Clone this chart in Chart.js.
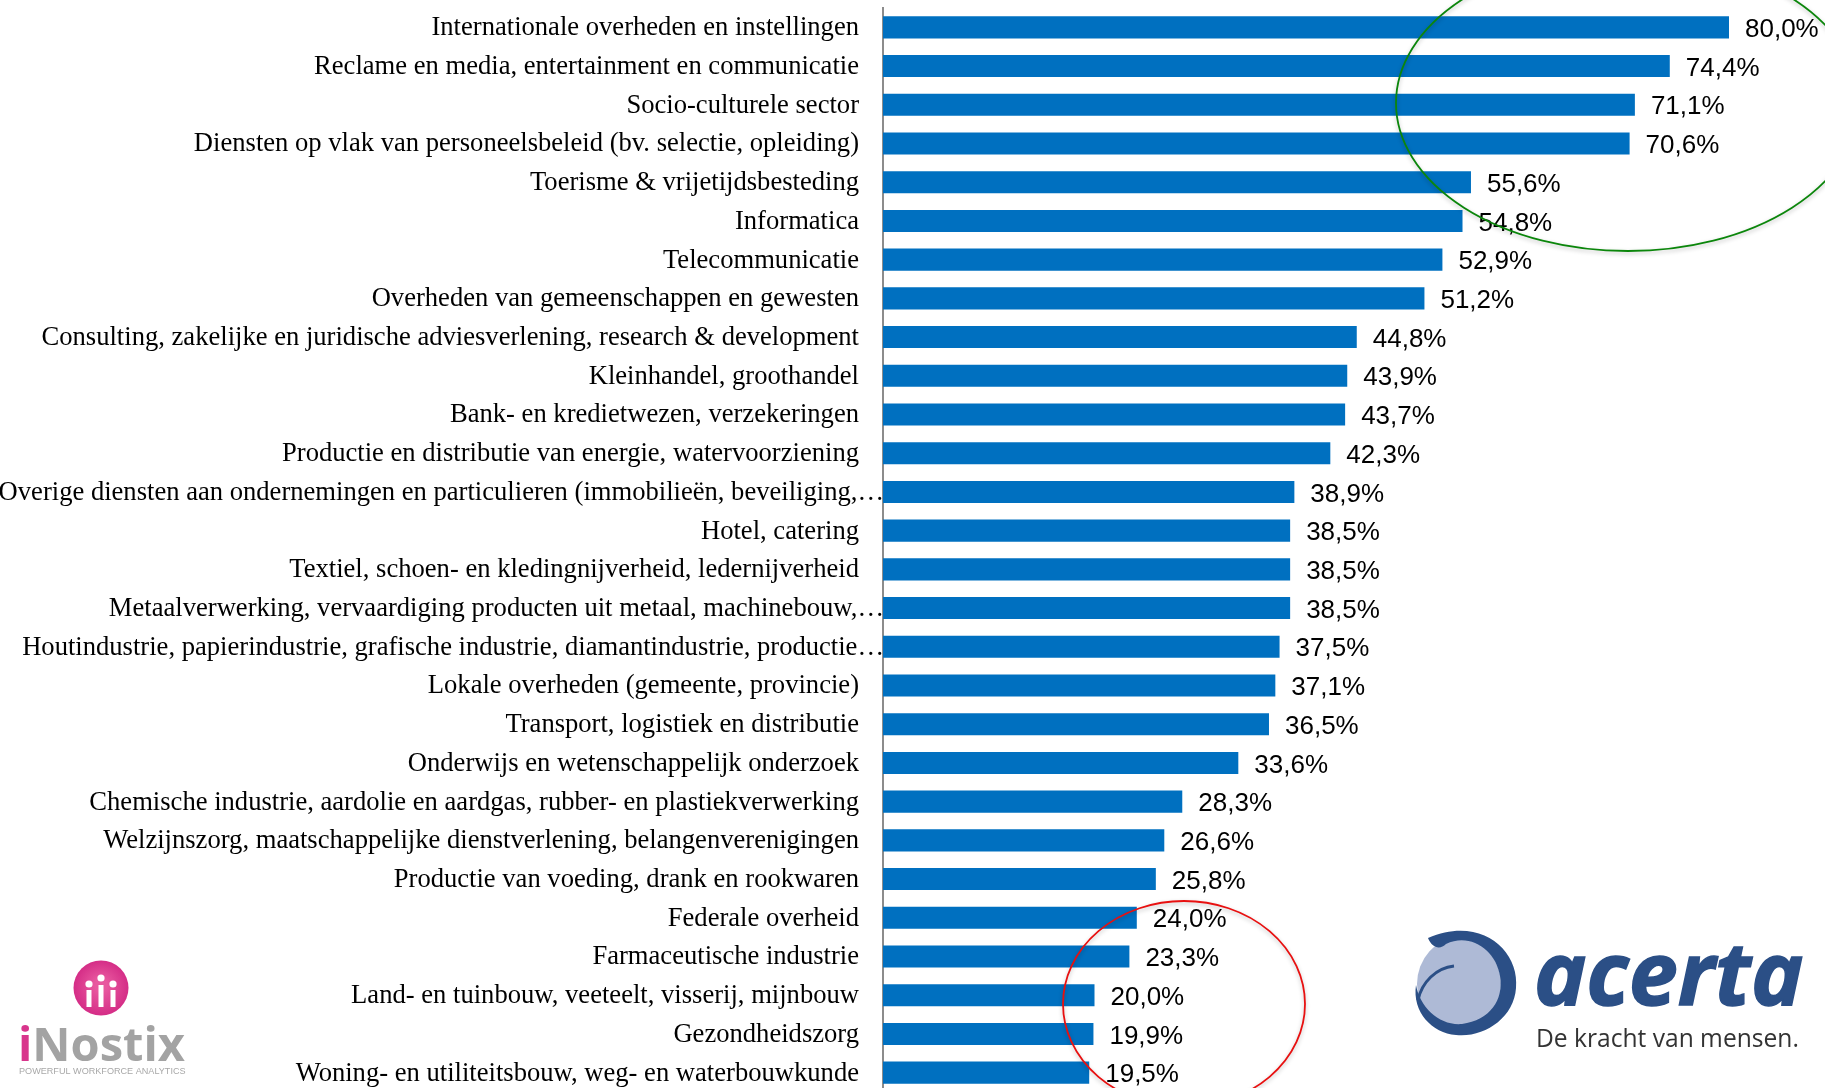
<!DOCTYPE html>
<html>
<head>
<meta charset="utf-8">
<title>Sectoren</title>
<script src="https://cdn.jsdelivr.net/npm/chart.js@4/dist/chart.umd.min.js"></script>
<style>
  html, body { margin: 0; padding: 0; background: #fff; overflow: hidden; }
  canvas { display: block; }
</style>
</head>
<body>
<canvas id="chart-sectors" width="1825" height="1100"></canvas>
<script>
// ==================================================
// DATA
// ==================================================
const sectors = [
  "Internationale overheden en instellingen",
  "Reclame en media, entertainment en communicatie",
  "Socio-culturele sector",
  "Diensten op vlak van personeelsbeleid (bv. selectie, opleiding)",
  "Toerisme & vrijetijdsbesteding",
  "Informatica",
  "Telecommunicatie",
  "Overheden van gemeenschappen en gewesten",
  "Consulting, zakelijke en juridische adviesverlening, research & development",
  "Kleinhandel, groothandel",
  "Bank- en kredietwezen, verzekeringen",
  "Productie en distributie van energie, watervoorziening",
  "Overige diensten aan ondernemingen en particulieren (immobilieën, beveiliging,…",
  "Hotel, catering",
  "Textiel, schoen- en kledingnijverheid, ledernijverheid",
  "Metaalverwerking, vervaardiging producten uit metaal, machinebouw,…",
  "Houtindustrie, papierindustrie, grafische industrie, diamantindustrie, productie…",
  "Lokale overheden (gemeente, provincie)",
  "Transport, logistiek en distributie",
  "Onderwijs en wetenschappelijk onderzoek",
  "Chemische industrie, aardolie en aardgas, rubber- en plastiekverwerking",
  "Welzijnszorg, maatschappelijke dienstverlening, belangenverenigingen",
  "Productie van voeding, drank en rookwaren",
  "Federale overheid",
  "Farmaceutische industrie",
  "Land- en tuinbouw, veeteelt, visserij, mijnbouw",
  "Gezondheidszorg",
  "Woning- en utiliteitsbouw, weg- en waterbouwkunde",
];
const percentages = [
  80.0, 74.4, 71.1, 70.6, 55.6, 54.8, 52.9, 51.2, 44.8, 43.9, 43.7, 42.3, 38.9, 38.5,
  38.5, 38.5, 37.5, 37.1, 36.5, 33.6, 28.3, 26.6, 25.8, 24.0, 23.3, 20.0, 19.9, 19.5,
];

// ==================================================
// PLUGINS
// ==================================================
// category labels: the cut off ones run up to the axis, the others stop short of it
const sectorLabels = {
  id: "sectorLabels",
  afterDraw(chart) {
    const ctx = chart.ctx;
    const yScale = chart.scales.y;
    ctx.save();
    ctx.font = '26.6px "Liberation Serif"';
    ctx.fillStyle = "#000";
    ctx.textAlign = "right";
    ctx.textBaseline = "middle";
    sectors.forEach((label, i) => {
      const right = label.endsWith("…") ? yScale.right + 1 : yScale.right - 24;
      ctx.fillText(label, right, yScale.getPixelForTick(i) + 1);
    });
    ctx.restore();
  },
};

const valueLabels = {
  id: "valueLabels",
  afterDraw(chart) {
    const ctx = chart.ctx;
    ctx.save();
    ctx.font = '26px "Liberation Sans"';
    ctx.fillStyle = "#000";
    ctx.textBaseline = "middle";
    chart.getDatasetMeta(0).data.forEach((bar, i) => {
      const text = percentages[i].toFixed(1).replace(".", ",") + "%";
      ctx.fillText(text, bar.x + 16, bar.y + 2.5);
    });
    ctx.restore();
  },
};

const ellipse = (ctx, cx, cy, rx, ry, color) => {
  ctx.save();
  ctx.shadowColor = "rgba(0, 0, 0, 0.25)";
  ctx.shadowBlur = 4;
  ctx.shadowOffsetY = 2;
  ctx.strokeStyle = color;
  ctx.lineWidth = 1.8;
  ctx.beginPath();
  ctx.ellipse(cx, cy, rx, ry, 0, 0, Math.PI * 2);
  ctx.stroke();
  ctx.restore();
};

const drawInostix = (ctx) => {
  ctx.save();
  // pink badge with the three figures
  const badge = ctx.createRadialGradient(101, 985, 6, 101, 988, 28);
  badge.addColorStop(0, "#e8589f");
  badge.addColorStop(1, "#d42c86");
  ctx.fillStyle = badge;
  ctx.beginPath();
  ctx.arc(101, 988, 27.5, 0, Math.PI * 2);
  ctx.fill();
  ctx.fillStyle = "#fff";
  [[89, 984], [101, 978], [113, 984]].forEach(([x, y]) => {
    ctx.beginPath();
    ctx.arc(x, y, 3.6, 0, Math.PI * 2);
    ctx.fill();
  });
  ctx.fillRect(86.5, 990, 5, 17);
  ctx.fillRect(98.5, 985, 5, 22);
  ctx.fillRect(110.5, 990, 5, 17);

  ctx.font = 'bold 47px "Open Sans"';
  ctx.textBaseline = "alphabetic";
  ctx.fillStyle = "#d8358c";
  ctx.fillText("i", 18, 1061);
  const iWidth = ctx.measureText("i").width;
  ctx.fillStyle = "#a3a3a3";
  ctx.fillText("Nostix", 18 + iWidth, 1061);

  ctx.font = '9.1px "Liberation Sans"';
  ctx.fillStyle = "#a8a8a8";
  ctx.fillText("POWERFUL WORKFORCE ANALYTICS", 19, 1074);
  ctx.restore();
};

const drawAcerta = (ctx) => {
  const blue = "#2b4f86";
  ctx.save();
  // pale disc, then the dark swoosh round it
  ctx.fillStyle = "#aebad6";
  ctx.beginPath();
  ctx.ellipse(1459, 984, 42, 46, 0, 0, Math.PI * 2);
  ctx.fill();
  ctx.fillStyle = blue;
  ctx.beginPath();
  ctx.moveTo(1428, 938);
  ctx.bezierCurveTo(1480, 915, 1520, 950, 1516, 988);
  ctx.bezierCurveTo(1514, 1018, 1484, 1038, 1456, 1035);
  ctx.bezierCurveTo(1432, 1033, 1412, 1012, 1416, 985);
  ctx.bezierCurveTo(1420, 1008, 1440, 1026, 1462, 1024);
  ctx.bezierCurveTo(1490, 1020, 1504, 1000, 1500, 976);
  ctx.bezierCurveTo(1496, 950, 1470, 932, 1446, 944);
  ctx.bezierCurveTo(1440, 950, 1432, 948, 1428, 938);
  ctx.fill();
  ctx.strokeStyle = blue;
  ctx.lineWidth = 3;
  ctx.beginPath();
  ctx.moveTo(1454, 966);
  ctx.bezierCurveTo(1436, 968, 1422, 982, 1418, 1000);
  ctx.stroke();

  ctx.font = 'italic bold 88px "Open Sans"';
  ctx.textBaseline = "alphabetic";
  ctx.fillStyle = blue;
  ctx.strokeStyle = blue;
  ctx.lineWidth = 1.5;
  ctx.fillText("acerta", 1534, 1005);
  ctx.strokeText("acerta", 1534, 1005);

  ctx.font = '24.6px "Open Sans"';
  ctx.fillStyle = "#333";
  ctx.fillText("De kracht van mensen.", 1536, 1047);
  ctx.restore();
};

const overlays = {
  id: "overlays",
  afterDraw(chart) {
    const ctx = chart.ctx;
    ellipse(ctx, 1628, 103, 232, 148, "#0b860b");
    ellipse(ctx, 1184, 1004, 121, 103, "#e81010");
    drawInostix(ctx);
    drawAcerta(ctx);
  },
};

// ==================================================
// CHART JS CANVAS
// ==================================================
const ctx = document.getElementById("chart-sectors").getContext("2d");

new Chart(ctx, {
  type: "bar",
  data: {
    labels: sectors,
    datasets: [
      {
        data: percentages,
        backgroundColor: "#0070c0",
        barPercentage: 0.57,
        categoryPercentage: 1,
      },
    ],
  },
  options: {
    indexAxis: "y",
    responsive: false,
    animation: false,
    layout: { padding: { top: 8, bottom: 8, right: 96 } },
    plugins: { legend: { display: false }, tooltip: { enabled: false } },
    scales: {
      x: { display: false, min: 0, max: 80 },
      y: {
        afterFit: (scale) => {
          scale.width = 883;
        },
        grid: { display: false },
        border: { color: "#8c8c8c", width: 2 },
        ticks: { display: false },
      },
    },
  },
  plugins: [sectorLabels, valueLabels, overlays],
});
</script>
</body>
</html>
